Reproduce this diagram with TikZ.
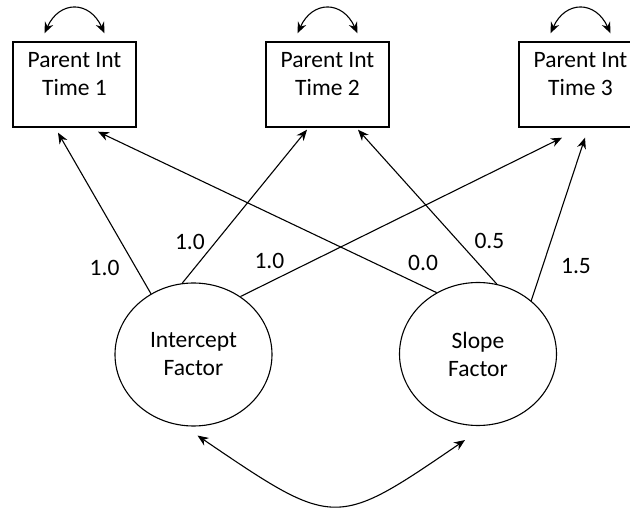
\documentclass[tikz,border=0pt]{standalone}
\usepackage{fontspec}
\setmainfont{Carlito}
\usetikzlibrary{shapes.geometric,arrows.meta}
\newcommand{\bigtext}{\fontsize{23.5}{28}\selectfont}

\begin{document}
\begin{tikzpicture}[->, >={Stealth[length=11pt,width=9pt]}, x=1pt, y=-1pt, line width=1.1pt, node distance=253pt,
    obs node/.style={rectangle, draw, line width=1.4pt, minimum width=123pt, minimum height=85pt, text height=23pt, align=center, inner sep=0pt},
    lat node/.style={ellipse, draw, line width=1.1pt, minimum width=157pt, minimum height=143pt, align=center, inner sep=0pt}]
  \tikzstyle{every node}=[font=\bigtext]
  \useasboundingbox (0,0) rectangle (630,510);

  \node[obs node] (t1) at (74.5,84.5) {Parent Int\\Time 1};
  \node[obs node] (t2) [right of=t1] {Parent Int\\Time 2};
  \node[obs node] (t3) [right of=t2] {Parent Int\\Time 3};

  \node[lat node] (int) at (193.5,354.5) {Intercept\\Factor};
  \node[lat node] (slope) at (478,354) {Slope\\Factor};

  % factor loadings
  \path
    (int.125) edge node[pos=0.16, xshift=-31.5pt] {1.0} ([shift={(-16.5,5)}]t1.south)
    (int.99) edge node[pos=0.27, xshift=-26pt] {1.0} ([shift={(-20.5,2)}]t2.south)
    (int.51) edge node[pos=0.09, yshift=21pt] {1.0} ([shift={(-18.5,10)}]t3.south)
    (slope.124) edge node[pos=0.04, yshift=23pt] {0.0} ([shift={(23.5,4)}]t1.south)
    (slope.75) edge node[pos=0.28, xshift=31.5pt] {0.5} ([shift={(30.5,2)}]t2.south)
    (slope.45) edge node[pos=0.21, xshift=33.5pt] {1.5} ([shift={(4.5,10)}]t3.south);

  % variances
  \draw[<->] ([shift={(-30,-8)}]t1.north) .. controls +(15,-33) and +(-15,-33) .. ([shift={(30,-8)}]t1.north);
  \draw[<->] ([shift={(-30,-8)}]t2.north) .. controls +(15,-33) and +(-15,-33) .. ([shift={(30,-8)}]t2.north);
  \draw[<->] ([shift={(-30,-8)}]t3.north) .. controls +(15,-33) and +(-15,-33) .. ([shift={(30,-8)}]t3.north);

  % covariance
  \draw[<->] ([shift={(4,9)}]int.south) .. controls (335,529) .. ([shift={(-13,14)}]slope.south);
\end{tikzpicture}
\end{document}
